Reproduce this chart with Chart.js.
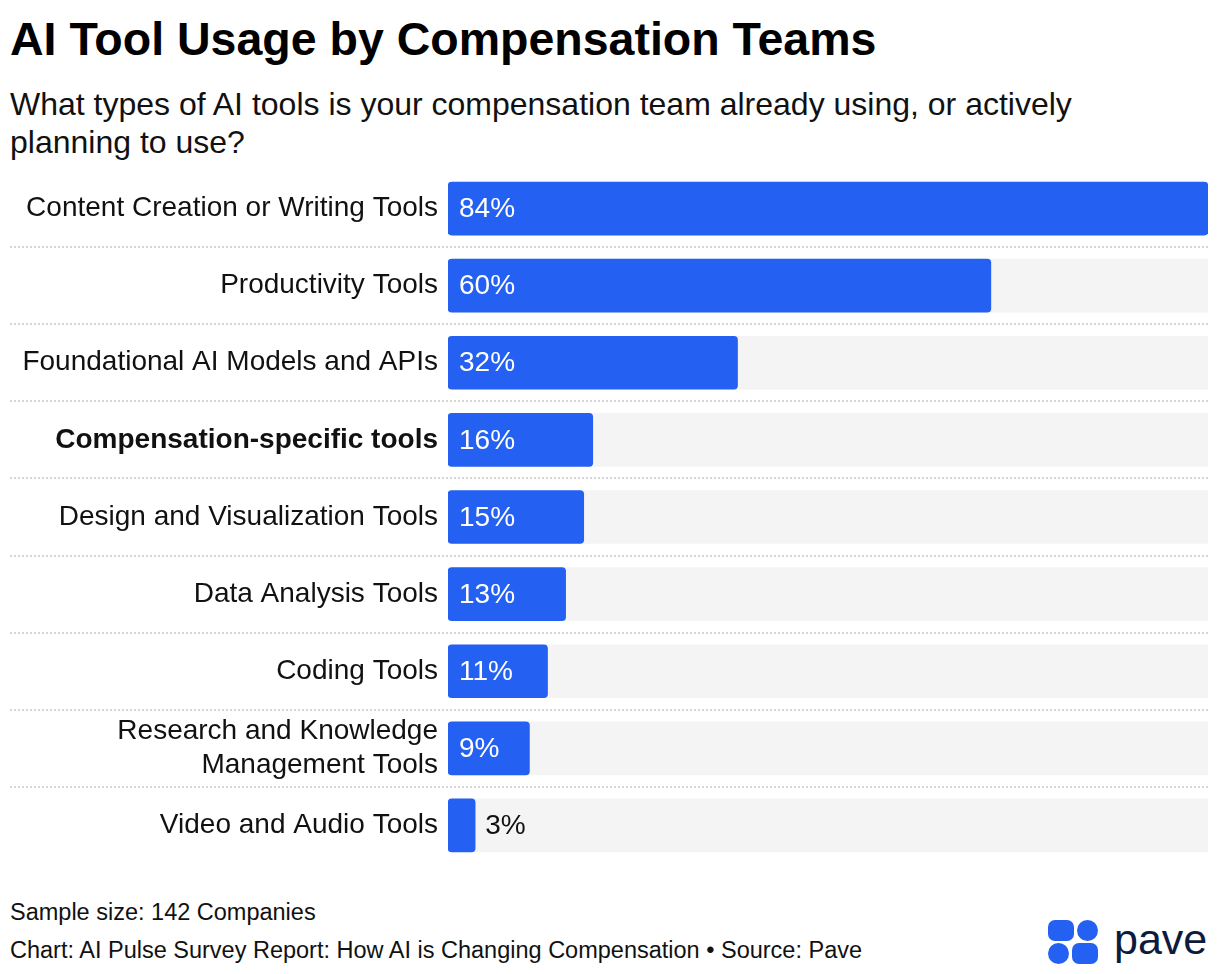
<!DOCTYPE html>
<html>
<head>
<meta charset="utf-8">
<script src="https://cdn.jsdelivr.net/npm/chart.js@4.4.1/dist/chart.umd.min.js"></script>
<style>
  html, body { margin: 0; padding: 0; background: #fff; }
  body { width: 1220px; height: 974px; position: relative; overflow: hidden;
         font-family: "Liberation Sans", Arial, sans-serif; color: #111; }
  .txt { position: absolute; left: 10px; white-space: nowrap; }
  .title { top: 16px; font-size: 46.5px; line-height: 46px; font-weight: bold; color: #000; }
  .subtitle { top: 85px; font-size: 32px; line-height: 38px; }
  .footer { top: 893px; font-size: 23.5px; line-height: 38px; }
  .chart-box { position: absolute; left: 0; top: 170px; width: 1220px; height: 694px; }
  .logo span { position: absolute; background: #2460f2; }
  .logo .word { background: none; color: #0c1b3d; font-size: 43px; line-height: 43px;
                left: 1114px; top: 918px; }
</style>
</head>
<body>
<div class="txt title">AI Tool Usage by Compensation Teams</div>
<div class="txt subtitle">What types of AI tools is your compensation team already using, or actively<br>planning to use?</div>
<div class="chart-box"><canvas id="chart"></canvas></div>
<div class="txt footer">Sample size: 142 Companies<br>Chart: AI Pulse Survey Report: How AI is Changing Compensation • Source: Pave</div>
<div class="logo">
  <span style="left:1048px;top:920px;width:26px;height:21px;border-radius:7px"></span>
  <span style="left:1077px;top:920px;width:21px;height:21px;border-radius:50%"></span>
  <span style="left:1048px;top:943px;width:21px;height:21px;border-radius:50%"></span>
  <span style="left:1072px;top:943px;width:26px;height:21px;border-radius:7px"></span>
  <span class="word">pave</span>
</div>
<script>
// data
const categories = [
  'Content Creation or Writing Tools',
  'Productivity Tools',
  'Foundational AI Models and APIs',
  'Compensation-specific tools',
  'Design and Visualization Tools',
  'Data Analysis Tools',
  'Coding Tools',
  ['Research and Knowledge', 'Management Tools'],
  'Video and Audio Tools'
];
const shares = [84, 60, 32, 16, 15, 13, 11, 9, 3];
const highlightIndex = 3;
const axisMax = 84;

const blue = '#2460f2';
const track = '#f4f4f4';
const fontFamily = '"Liberation Sans", Arial, sans-serif';

// dotted lines between rows, across the labels too
const separators = {
  id: 'separators',
  beforeDatasetsDraw(chart) {
    const y = chart.scales.y;
    const ctx = chart.ctx;
    ctx.save();
    ctx.strokeStyle = '#d6d6d6';
    ctx.lineWidth = 2;
    ctx.setLineDash([2, 2]);
    for (let i = 0; i < categories.length - 1; i++) {
      const py = Math.round((y.getPixelForValue(i) + y.getPixelForValue(i + 1)) / 2);
      ctx.beginPath();
      ctx.moveTo(10, py);
      ctx.lineTo(chart.chartArea.right, py);
      ctx.stroke();
    }
    ctx.restore();
  }
};

// percent labels, inside the bar when it fits
const valueLabels = {
  id: 'valueLabels',
  afterDatasetsDraw(chart) {
    const ctx = chart.ctx;
    const meta = chart.getDatasetMeta(0);
    ctx.save();
    ctx.font = '28px ' + fontFamily;
    ctx.textBaseline = 'middle';
    ctx.textAlign = 'left';
    meta.data.forEach((bar, i) => {
      const text = shares[i] + '%';
      const w = ctx.measureText(text).width;
      if (bar.x - bar.base > w + 20) {
        ctx.fillStyle = '#fff';
        ctx.fillText(text, bar.base + 11, bar.y + 1);
      } else {
        ctx.fillStyle = '#111';
        ctx.fillText(text, bar.x + 10, bar.y + 1);
      }
    });
    ctx.restore();
  }
};

new Chart(document.getElementById('chart'), {
  type: 'bar',
  data: {
    labels: categories,
    datasets: [
      {
        data: shares,
        backgroundColor: blue,
        borderRadius: 4,
        borderSkipped: false,
        barThickness: 53,
        grouped: false,
        order: 0
      },
      {
        data: categories.map(() => axisMax),
        backgroundColor: track,
        borderRadius: 0,
        barThickness: 53,
        grouped: false,
        order: 1
      }
    ]
  },
  options: {
    indexAxis: 'y',
    responsive: true,
    maintainAspectRatio: false,
    animation: false,
    layout: { padding: { left: 0, right: 12, top: 0, bottom: 0 } },
    plugins: {
      legend: { display: false },
      tooltip: { enabled: false }
    },
    scales: {
      x: { display: false, min: 0, max: axisMax },
      y: {
        afterFit(scale) {
          scale.width = 448;
          scale.paddingTop = 0;
          scale.paddingBottom = 0;
        },
        border: { display: false },
        grid: { display: false, drawTicks: false },
        ticks: {
          padding: 10,
          color: '#111',
          font: (c) => ({
            family: fontFamily,
            size: 28,
            weight: c.index === highlightIndex ? 'bold' : 'normal',
            lineHeight: 1.2
          })
        }
      }
    }
  },
  plugins: [separators, valueLabels]
});
</script>
</body>
</html>
